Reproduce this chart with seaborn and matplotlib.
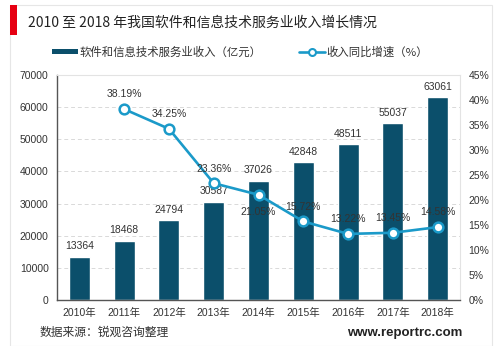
import matplotlib
matplotlib.use("Agg")
import matplotlib.pyplot as plt
import seaborn as sns
import pandas as pd
from matplotlib.patches import Rectangle
from matplotlib.lines import Line2D
from matplotlib.ticker import FuncFormatter

years = ["2010年", "2011年", "2012年", "2013年", "2014年", "2015年", "2016年", "2017年", "2018年"]
revenue = [13364, 18468, 24794, 30587, 37026, 42848, 48511, 55037, 63061]
growth_years = ["2011年", "2012年", "2013年", "2014年", "2015年", "2016年", "2017年", "2018年"]
growth = [38.19, 34.25, 23.36, 21.05, 15.72, 13.22, 13.45, 14.58]

title = "2010 至 2018 年我国软件和信息技术服务业收入增长情况"
bar_label = "软件和信息技术服务业收入（亿元）"
line_label = "收入同比增速（%）"
source = "数据来源：锐观咨询整理"
site = "www.reportrc.com"

sns.set_style("white")
plt.rcParams["font.family"] = ["Noto Sans CJK SC", "DejaVu Sans"]

BAR = "#0b4f6b"
LINE = "#1b9ac9"
TXT = "#333333"

fig = plt.figure(figsize=(5.0, 3.46), dpi=100)
ax = fig.add_axes([0.114, 0.133, 0.806, 0.650])

df = pd.DataFrame({"year": years, "rev": revenue})
sns.barplot(data=df, x="year", y="rev", color=BAR, width=0.47, ax=ax, saturation=1)
ax.set_xlim(-0.5, 8.5)
ax.set_ylim(0, 70000)
ax.set_yticks(range(0, 70001, 10000))
ax.set_xlabel("")
ax.set_ylabel("")
ax.grid(axis="y", linestyle=(0, (4, 3)), color="#d9d9d9", linewidth=0.7)
ax.set_axisbelow(True)
ax.tick_params(axis="both", labelsize=7.5, colors=TXT, length=0, pad=6)
for lbl in ax.get_xticklabels() + ax.get_yticklabels():
    lbl.set_family(["Liberation Sans", "Noto Sans CJK SC"])
for s in ["left", "bottom"]:
    ax.spines[s].set_color("#555555")
    ax.spines[s].set_linewidth(1.0)
for s in ["top", "right"]:
    ax.spines[s].set_color("#e3e3e3")
    ax.spines[s].set_linewidth(0.8)

for i, v in enumerate(revenue):
    ax.annotate(str(v), (i, v), xytext=(0, 4), textcoords="offset points",
                ha="center", va="bottom", fontsize=7.5, color=TXT,
                family=["Liberation Sans", "DejaVu Sans"])

ax2 = ax.twinx()
pos = [years.index(y) for y in growth_years]
gdf = pd.DataFrame({"x": pos, "g": growth})
sns.lineplot(data=gdf, x="x", y="g", ax=ax2, color=LINE, linewidth=1.9,
             marker="o", markersize=7, markerfacecolor="white",
             markeredgecolor=LINE, markeredgewidth=1.8)
ax2.set_ylim(0, 45)
ax2.set_yticks(range(0, 46, 5))
ax2.yaxis.set_major_formatter(FuncFormatter(lambda v, p: f"{int(v)}%"))
ax2.set_xlabel("")
ax2.set_ylabel("")
ax2.tick_params(axis="y", labelsize=7.5, colors=TXT, length=0, pad=6)
for lbl in ax2.get_yticklabels():
    lbl.set_family(["Liberation Sans", "DejaVu Sans"])
for s in ax2.spines.values():
    s.set_visible(False)

for x, g, yr in zip(pos, growth, growth_years):
    below = yr == "2014年"
    ax2.annotate(f"{g:.2f}%", (x, g), xytext=(0, -9 if below else 7),
                 textcoords="offset points", ha="center",
                 va="top" if below else "bottom", fontsize=7.5, color=TXT,
                 family=["Liberation Sans", "DejaVu Sans"])

# frame and decorations
fig.patches.append(Rectangle((0.02, 0.0), 0.964, 0.985, transform=fig.transFigure,
                             fill=False, edgecolor="#e6e6e6", linewidth=0.8))
fig.patches.append(Rectangle((0.02, 0.898), 0.014, 0.087, transform=fig.transFigure,
                             facecolor="#e60012", edgecolor="none"))
fig.text(0.056, 0.934, title, fontsize=10, color="#222222", va="center", ha="left")

handles = [Rectangle((0, 0), 1, 1, facecolor=BAR, edgecolor="none"),
           Line2D([], [], color=LINE, linewidth=1.9, marker="o", markersize=5,
                  markerfacecolor="white", markeredgecolor=LINE, markeredgewidth=1.5)]
leg = fig.legend(handles, [bar_label, line_label], loc="center left",
                 bbox_to_anchor=(0.083, 0.85), ncol=2, frameon=False,
                 fontsize=8.2, handlelength=2.3, handleheight=0.35,
                 columnspacing=3.3, handletextpad=0.1)
for t in leg.get_texts():
    t.set_color(TXT)

fig.text(0.08, 0.04, source, fontsize=8.5, color="#333333", va="center", ha="left")
fig.text(0.924, 0.038, site, fontsize=9.5, fontweight="bold", color="#222222",
         va="center", ha="right", family=["Liberation Sans", "DejaVu Sans"])

fig.savefig("out.png", dpi=100)
